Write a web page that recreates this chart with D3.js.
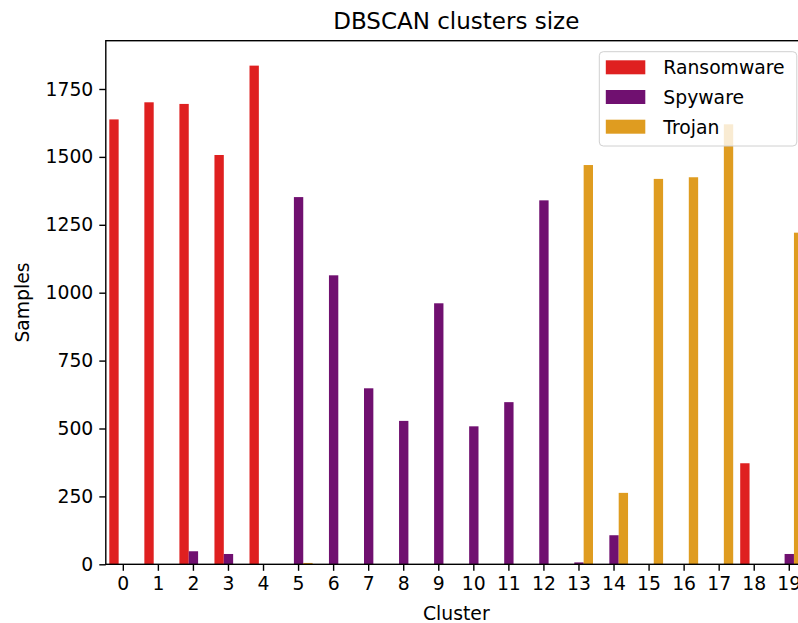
<!DOCTYPE html>
<html>
<head>
<meta charset="utf-8">
<script src="https://cdn.jsdelivr.net/npm/d3@7"></script>
<style>
  html, body { margin: 0; padding: 0; background: #ffffff; }
  svg { display: block; font-family: "DejaVu Sans", sans-serif; }
</style>
</head>
<body>
<svg id="chart" width="798" height="623"></svg>
<script>
// Cluster ids and per-class sample counts
const clusters = ["0","1","2","3","4","5","6","7","8","9","10","11","12","13","14","15","16","17","18","19"];
const ransomware = [1638, 1701, 1695, 1507, 1836, 0, 0, 0, 0, 0, 0, 0, 0, 0, 0, 0, 0, 0, 372, 0];
const spyware    = [0, 0, 48, 38, 0, 1352, 1064, 648, 528, 961, 508, 597, 1340, 7, 107, 0, 0, 0, 0, 38];
const trojan     = [0, 0, 0, 0, 0, 5, 0, 0, 0, 0, 0, 0, 0, 1470, 263, 1419, 1425, 1620, 0, 1221];
const classNames = ["Ransomware", "Spyware", "Trojan"];
const classColors = ["#df2020", "#701070", "#df9c20"];
const yTicks = [0, 250, 500, 750, 1000, 1250, 1500, 1750];

const series = [ransomware, spyware, trojan];

const svg = d3.select("#chart");
const plot = { left: 105.8, right: 806.8, top: 40.7, bottom: 564.3 };

const x = d3.scaleBand().domain(clusters).range([plot.left, plot.right]).padding(0);
const hue = d3.scaleBand().domain(classNames)
  .range([x.bandwidth() * 0.1, x.bandwidth() * 0.9]).padding(0);
const yMax = d3.max(series.flat()) * 1.05;
const y = d3.scaleLinear().domain([0, yMax]).range([plot.bottom, plot.top]);

const rows = [];
series.forEach((vals, si) => {
  vals.forEach((v, i) => {
    if (v > 0) rows.push({ cluster: clusters[i], cls: classNames[si], color: classColors[si], value: v });
  });
});

// Bars
svg.append("g").selectAll("rect").data(rows).join("rect")
  .attr("x", d => x(d.cluster) + hue(d.cls))
  .attr("width", hue.bandwidth())
  .attr("y", d => y(d.value))
  .attr("height", d => y(0) - y(d.value))
  .attr("fill", d => d.color);

// Axes
const fs = 18.8;
const xAxis = svg.append("g")
  .attr("transform", `translate(0,${plot.bottom})`)
  .call(d3.axisBottom(x).tickSize(6.5).tickPadding(6).tickSizeOuter(0));
const yAxis = svg.append("g")
  .attr("transform", `translate(${plot.left},0)`)
  .call(d3.axisLeft(y).tickValues(yTicks).tickFormat(d3.format("d"))
    .tickSize(6.5).tickPadding(6).tickSizeOuter(0));
[xAxis, yAxis].forEach(g => {
  g.select(".domain").remove();
  g.selectAll(".tick line").attr("stroke", "#000").attr("stroke-width", 1.4);
  g.selectAll(".tick text").attr("fill", "#000")
    .style("font-size", fs + "px").style("font-family", "DejaVu Sans, sans-serif");
});

// Frame (spines)
svg.append("rect")
  .attr("x", plot.left).attr("y", plot.top)
  .attr("width", plot.right - plot.left).attr("height", plot.bottom - plot.top)
  .attr("fill", "none").attr("stroke", "#000").attr("stroke-width", 1.4);

// Titles
const cx = (plot.left + plot.right) / 2;
svg.append("text").attr("x", cx).attr("y", 29).attr("text-anchor", "middle")
  .style("font-size", "23px").attr("fill", "#000").text("DBSCAN clusters size");
svg.append("text").attr("x", cx).attr("y", 620).attr("text-anchor", "middle")
  .style("font-size", fs + "px").attr("fill", "#000").text("Cluster");
svg.append("text")
  .attr("transform", `translate(29,${(plot.top + plot.bottom) / 2}) rotate(-90)`)
  .attr("text-anchor", "middle")
  .style("font-size", fs + "px").attr("fill", "#000").text("Samples");

// Legend
const lg = { right: plot.right - 10, top: plot.top + 11, w: 197.5, h: 94.3 };
const legend = svg.append("g").attr("transform", `translate(${lg.right - lg.w},${lg.top})`);
legend.append("rect")
  .attr("width", lg.w).attr("height", lg.h).attr("rx", 4)
  .attr("fill", "rgba(255,255,255,0.8)").attr("stroke", "#d0d0d0").attr("stroke-width", 1);
classNames.forEach((name, i) => {
  const cy = 15.6 + i * 29.7;
  legend.append("rect").attr("x", 6.5).attr("y", cy - 7).attr("width", 39.5).attr("height", 14)
    .attr("fill", classColors[i]);
  legend.append("text").attr("x", 64).attr("y", cy + 7)
    .style("font-size", fs + "px").attr("fill", "#000").text(name);
});
</script>
</body>
</html>
